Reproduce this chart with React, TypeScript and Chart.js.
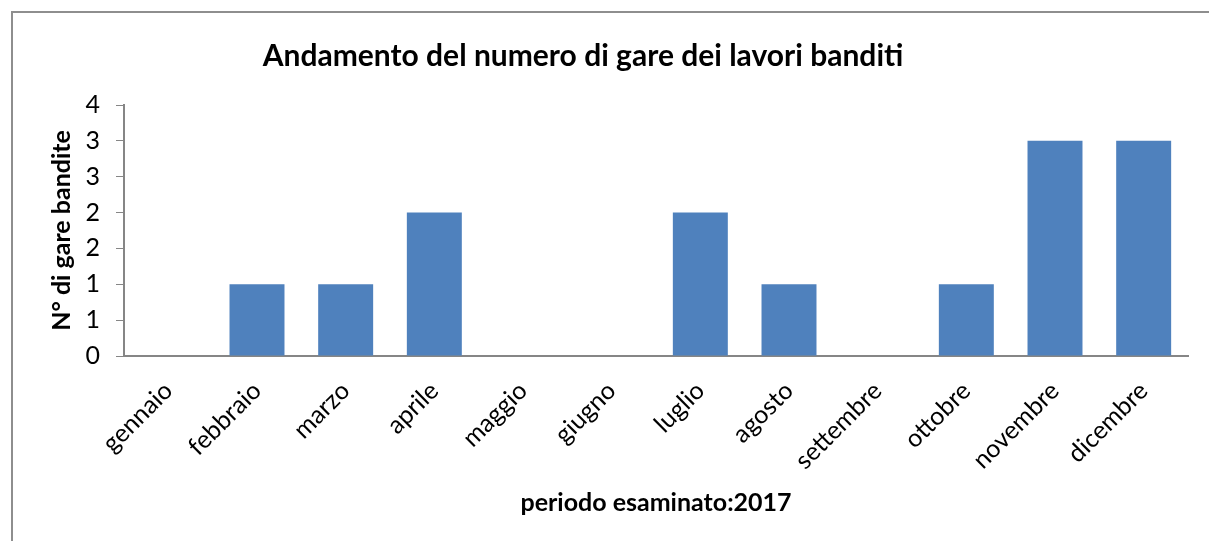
import React, { useEffect, useRef } from "react";
import { Chart, registerables } from "chart.js";

Chart.register(...registerables);

const months = ["gennaio", "febbraio", "marzo", "aprile", "maggio", "giugno", "luglio", "agosto", "settembre", "ottobre", "novembre", "dicembre"];
const gare = [0, 1, 1, 2, 0, 0, 2, 1, 0, 1, 3, 3];
const yTickLabels = ["0", "1", "1", "2", "2", "3", "3", "4"];
const titleText = "Andamento del numero di gare dei lavori banditi";
const xTitle = "periodo esaminato:2017";
const yTitle = "N° di gare bandite";

const FONT = "Lato, 'Open Sans', sans-serif";

const framePlugin = {
  id: "frame",
  beforeDraw(chart: any) {
    const { ctx, width, height } = chart;
    ctx.save();
    ctx.fillStyle = "#ffffff";
    ctx.fillRect(0, 0, width, height);
    ctx.strokeStyle = "#8e8e8e";
    ctx.lineWidth = 2;
    ctx.beginPath();
    ctx.moveTo(12, height + 2);
    ctx.lineTo(12, 12);
    ctx.lineTo(width + 2, 12);
    ctx.stroke();
    ctx.restore();
  },
  afterDraw(chart: any) {
    const { ctx } = chart;
    ctx.save();
    ctx.fillStyle = "#000000";
    ctx.font = `bold 30px ${FONT}`;
    ctx.textAlign = "center";
    ctx.textBaseline = "middle";
    ctx.fillText(titleText, 583, 56);
    ctx.restore();
  },
};

export default function App() {
  const ref = useRef<HTMLCanvasElement>(null);
  useEffect(() => {
    if (!ref.current) return;
    const chart = new Chart(ref.current, {
      type: "bar",
      data: {
        labels: months,
        datasets: [
          {
            data: gare,
            backgroundColor: "#4F81BD",
            borderWidth: 0,
            barPercentage: 0.62,
            categoryPercentage: 1,
          },
        ],
      },
      options: {
        animation: false,
        responsive: false,
        layout: { padding: { left: 0, right: 21, top: 105, bottom: 0 } },
        plugins: {
          legend: { display: false },
          tooltip: { enabled: false },
          title: { display: false },
        },
        scales: {
          x: {
            afterFit: (s: any) => {
              s.height = 185;
            },
            grid: { display: false, drawTicks: false },
            border: { display: true, color: "#868686", width: 2 },
            ticks: {
              minRotation: 45,
              maxRotation: 45,
              autoSkip: false,
              padding: 20,
              color: "#000",
              font: { family: FONT, size: 25 },
            },
            title: {
              display: true,
              text: xTitle,
              color: "#000",
              font: { family: FONT, size: 25, weight: "bold" },
              padding: { top: 0, bottom: 23 },
            },
          },
          y: {
            min: 0,
            max: 3.5,
            afterFit: (s: any) => {
              s.width = 124;
            },
            grid: { display: true, drawOnChartArea: false, drawTicks: true, tickLength: 8, color: "#868686", lineWidth: 1 },
            border: { display: true, color: "#868686", width: 2 },
            ticks: {
              stepSize: 0.5,
              padding: 16,
              color: "#000",
              font: { family: FONT, size: 25 },
              callback: (_v: any, i: number) => yTickLabels[i],
            },
            title: {
              display: true,
              text: yTitle,
              color: "#000",
              font: { family: FONT, size: 25, weight: "bold" },
              padding: { top: 47, bottom: 0 },
            },
          },
        },
      },
      plugins: [framePlugin],
    });
    return () => chart.destroy();
  }, []);
  return (
    <div style={{ position: "fixed", left: 0, top: 0, width: 1209, height: 541 }}>
      <canvas ref={ref} width={1209} height={541} style={{ display: "block" }} />
    </div>
  );
}
